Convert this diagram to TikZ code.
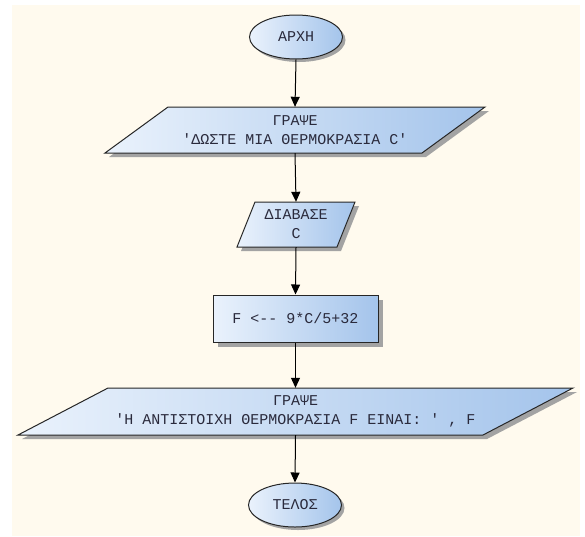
\documentclass[tikz,border=0pt]{standalone}
\usepackage{fontspec}
\newfontfamily\flowfont{Liberation Mono}[Ligatures=TeXOff]
\usetikzlibrary{shapes.geometric,shadows,arrows.meta}

\definecolor{paper}{HTML}{FFFAEE}
\definecolor{fillL}{HTML}{EAF2FC}
\definecolor{fillR}{HTML}{A4C4EB}
\definecolor{shadowgray}{HTML}{A3A3A3}
\definecolor{ink}{HTML}{2A2A3C}
\definecolor{edge}{HTML}{262626}

\tikzset{
  flowtext/.style={font=\flowfont\fontsize{15}{19}\selectfont\frenchspacing,
    text=ink, align=center},
  terminal/.style={ellipse, draw=edge, line width=1pt,
    left color=fillL, right color=fillR,
    minimum width=93pt, minimum height=44pt, inner sep=0pt,
    drop shadow={shadow xshift=3pt, shadow yshift=-3pt, fill=shadowgray, opacity=1},
    flowtext},
  process/.style={rectangle, draw=edge, line width=1pt,
    left color=fillL, right color=fillR,
    minimum width=165pt, minimum height=47pt, inner sep=0pt,
    drop shadow={shadow xshift=5pt, shadow yshift=-5pt, fill=shadowgray, opacity=1},
    flowtext},
  iolabel/.style={rectangle, inner sep=0pt, flowtext},
  flow/.style={draw=black, line width=1pt, -{Triangle[length=10pt,width=9pt]}}
}

% input/output parallelogram: centre x, centre y, half width, slant, height
\newcommand\ioshape[5]{%
  \fill[shadowgray]
    ({#1-#3+4},{#2+#5/2+4}) -- ({#1+#3-#4+4},{#2+#5/2+4}) --
    ({#1+#3+4},{#2-#5/2+4}) -- ({#1-#3+#4+4},{#2-#5/2+4}) -- cycle;
  \shadedraw[left color=fillL, right color=fillR, draw=edge, line width=1pt]
    ({#1-#3},{#2+#5/2}) -- ({#1+#3-#4},{#2+#5/2}) --
    ({#1+#3},{#2-#5/2}) -- ({#1-#3+#4},{#2-#5/2}) -- cycle;
}

\begin{document}
\begin{tikzpicture}[x=1pt, y=-1pt]
  % canvas
  \fill[white] (0,0) rectangle (585,536);
  \fill[paper] (12,5) rectangle (580,536);
  \useasboundingbox (0,0) rectangle (585,536);

  % start
  \node[terminal] (start) at (296,37) {ΑΡΧΗ};

  % prompt for the temperature
  \ioshape{295}{130}{190}{63}{46}
  \node[iolabel, minimum width=250pt, minimum height=46pt] (ask) at (295,130)
    {ΓΡΑΨΕ\\'ΔΩΣΤΕ ΜΙΑ ΘΕΡΜΟΚΡΑΣΙΑ C'};

  % read C
  \ioshape{296}{224.5}{59}{18}{45}
  \node[iolabel, minimum width=60pt, minimum height=45pt] (read) at (296,224.5)
    {ΔΙΑΒΑΣΕ\\C};

  % conversion
  \node[process] (calc) at (295.5,318.5) {F <-- 9*C/5+32};

  % print the result
  \ioshape{295.5}{411.5}{277.5}{90}{47}
  \node[iolabel, minimum width=380pt, minimum height=47pt] (show) at (295.5,411.5)
    {ΓΡΑΨΕ\\'Η ΑΝΤΙΣΤΟΙΧΗ ΘΕΡΜΟΚΡΑΣΙΑ F ΕΙΝΑΙ: ' , F};

  % end
  \node[terminal] (stop) at (295,505) {ΤΕΛΟΣ};

  % connectors
  \draw[flow] (start.south) -- (ask.north);
  \draw[flow] (ask.south) -- (read.north);
  \draw[flow] (read.south) -- (calc.north);
  \draw[flow] (calc.south) -- (show.north);
  \draw[flow] (show.south) -- (stop.north);
\end{tikzpicture}
\end{document}
